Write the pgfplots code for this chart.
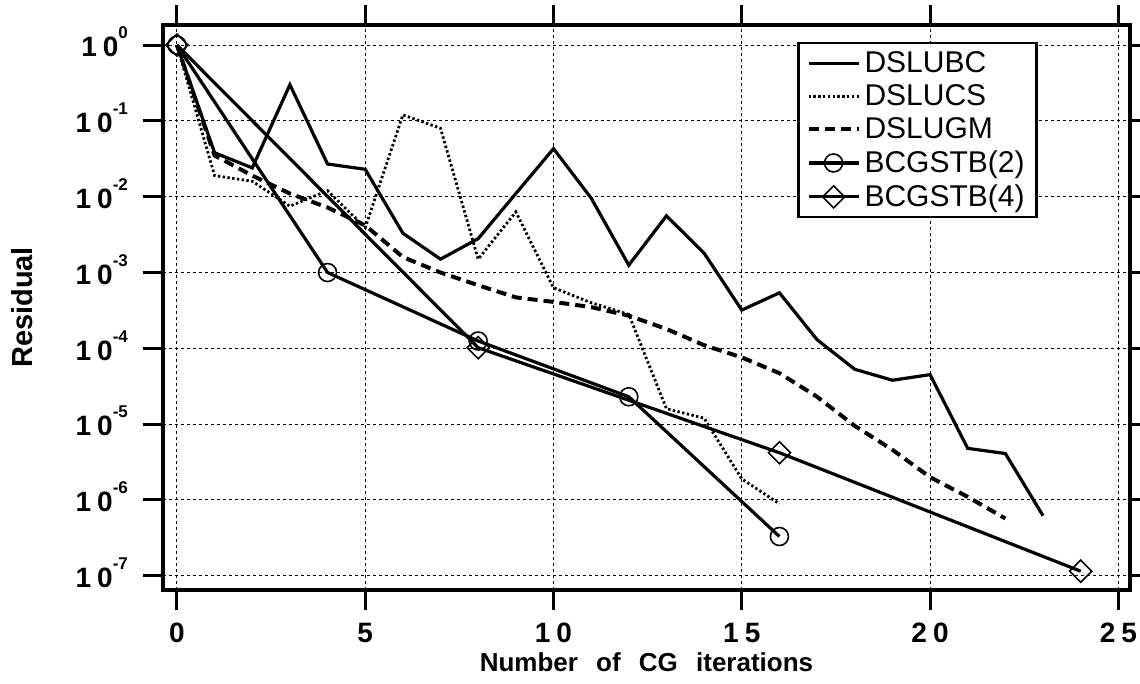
\documentclass[border=0pt]{standalone}
\usepackage{fontspec}
\setmainfont{Liberation Sans}
\usepackage{pgfplots}
\pgfplotsset{compat=1.18}

% tick labels set like the original: "1 0" with a gap
\newcommand{\tfont}{\fontsize{14}{16}\selectfont\bfseries}
\newcommand{\yl}[1]{{\tfont 1\hspace{3pt}0\raisebox{9pt}{\fontsize{8.5}{9}\selectfont\bfseries #1}}}
\newcommand{\xl}[2]{{\tfont #1\hspace{3pt}#2}}

\begin{document}
\begin{tikzpicture}
\begin{axis}[
    scale only axis,
    width=483.5pt, height=282.5pt,
    ymode=log,
    xmin=-0.37, xmax=25.31,
    ymin=6.5e-8, ymax=1.84,
    xtick={0,5,10,15,20,25},
    xticklabels={{\tfont 0},{\tfont 5},\xl{1}{0},\xl{1}{5},\xl{2}{0},\xl{2}{5}},
    ytick={1,1e-1,1e-2,1e-3,1e-4,1e-5,1e-6,1e-7},
    yticklabels={\yl{0},\yl{-1},\yl{-2},\yl{-3},\yl{-4},\yl{-5},\yl{-6},\yl{-7}},
    yminorticks=false,
    yticklabel style={xshift=-4pt, yshift=1.5pt},
    xticklabel style={yshift=-3pt},
    tick align=outside,
    major tick length=10pt,
    tick style={black, line width=1.5pt},
    axis line style={line width=1.6pt},
    grid=major,
    major grid style={black, line width=0.5pt, dash pattern=on 1.5pt off 1.5pt},
    xlabel={\textbf{Number\hspace{0.7em}of\hspace{0.7em}CG\hspace{0.7em}iterations}},
    ylabel={\textbf{Residual}},
    xlabel style={font=\fontsize{13}{15}\selectfont,
        at={(rel axis cs:0.5,0)}, anchor=center, yshift=-36pt},
    ylabel style={font=\fontsize{14.5}{16}\selectfont,
        at={(rel axis cs:0,0.5)}, anchor=center, yshift=70.5pt},
    legend style={at={(0.656,0.97)}, anchor=north west, draw=black,
        line width=1.2pt, font=\fontsize{15}{17}\selectfont,
        inner xsep=4pt, inner ysep=2pt, row sep=0.6pt,
        cells={anchor=west}},
    legend image code/.code={%
        \draw[mark repeat=2,mark phase=2] plot coordinates {(0pt,0pt)(12.5pt,0pt)(25pt,0pt)};},
    clip=false,
]
\coordinate (bl) at (rel axis cs:0,0);
\coordinate (tr) at (rel axis cs:1,1);

% DSLUBC
\addplot[black, line width=1.6pt, line join=miter] coordinates {
 (0,1) (1,0.038) (2,0.024) (3,0.30) (4,0.027) (5,0.023) (6,0.0033) (7,0.0015)
 (8,0.0028) (9,0.011) (10,0.043) (11,0.0096) (12,0.00125) (13,0.0056) (14,0.0018)
 (15,0.00032) (16,0.00054) (17,0.00013) (18,5.3e-5) (19,3.8e-5) (20,4.5e-5)
 (21,4.8e-6) (22,4.1e-6) (23,6.2e-7)
};
\addlegendentry{DSLUBC}

% DSLUCS
\addplot[black, line width=1.4pt, dash pattern=on 1.2pt off 1.2pt] coordinates {
 (0,1) (1,0.019) (2,0.016) (3,0.0075) (4,0.012) (5,0.0039) (6,0.12) (7,0.080)
 (8,0.0015) (9,0.0063) (10,0.00063) (11,0.00040) (12,0.00028) (13,1.6e-5)
 (14,1.2e-5) (15,1.9e-6) (16,8.9e-7)
};
\addlegendentry{DSLUCS}

% DSLUGM
\addplot[black, line width=2pt, dash pattern=on 5pt off 3pt] coordinates {
 (0,1) (1,0.035) (2,0.019) (3,0.011) (4,0.0072) (5,0.0042) (6,0.0016) (7,0.00100)
 (8,0.00068) (9,0.00047) (10,0.00041) (11,0.00035) (12,0.00027) (13,0.00018)
 (14,0.00011) (15,7.6e-5) (16,4.7e-5) (17,2.3e-5) (18,9.5e-6) (19,4.6e-6)
 (20,2.0e-6) (21,1.1e-6) (22,5.7e-7)
};
\addlegendentry{DSLUGM}

% BCGSTB(2)
\addplot[black, line width=1.6pt, mark=o, mark size=4.5pt,
    mark options={line width=0.8pt, fill=none}] coordinates {
 (0,1) (4,1.0e-3) (8,1.25e-4) (12,2.3e-5) (16,3.3e-7)
};
\addlegendentry{BCGSTB(2)}

% BCGSTB(4)
\addplot[black, line width=1.6pt, mark=square, mark size=3.9pt,
    mark options={line width=0.8pt, fill=none, rotate=45}] coordinates {
 (0,1) (8,1.02e-4) (16,4.2e-6) (24,1.15e-7)
};
\addlegendentry{BCGSTB(4)}
\end{axis}
\pgfresetboundingbox
\path ([xshift=-81.5pt,yshift=-47pt]bl) rectangle ([xshift=5pt,yshift=12.5pt]tr);
\end{tikzpicture}
\end{document}
